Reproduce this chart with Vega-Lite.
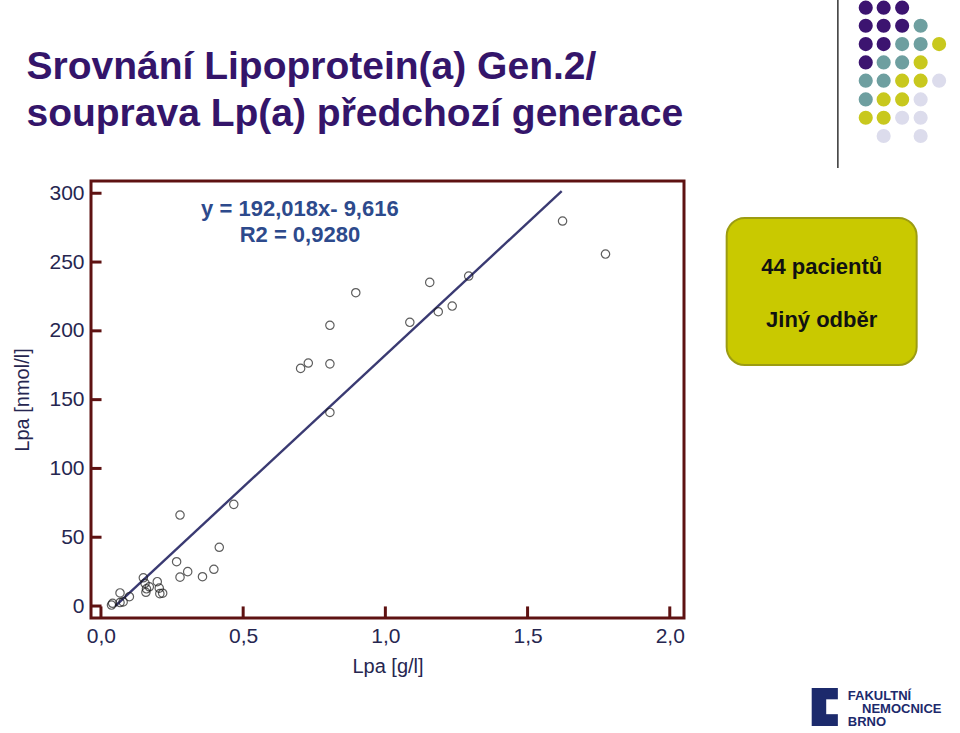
{
  "$schema": "https://vega.github.io/schema/vega-lite/v6.json",
  "width": 593,
  "height": 437,
  "autosize": {"type": "none"},
  "padding": {"left": 91, "top": 181, "right": 276, "bottom": 115},
  "background": "white",
  "config": {"view": {"stroke": "#5e1212", "strokeWidth": 3}, "font": "Liberation Sans"},
  "datasets": {
    "pts": [
      {"x": 0.037, "y": 0.7}, {"x": 0.041, "y": 2.0}, {"x": 0.067, "y": 9.5}, {"x": 0.067, "y": 2.5},
      {"x": 0.078, "y": 3.0}, {"x": 0.1, "y": 6.8}, {"x": 0.149, "y": 20.5}, {"x": 0.155, "y": 16.5},
      {"x": 0.16, "y": 12.5}, {"x": 0.158, "y": 10.0}, {"x": 0.17, "y": 14.0}, {"x": 0.198, "y": 17.7},
      {"x": 0.205, "y": 13.0}, {"x": 0.207, "y": 9.0}, {"x": 0.217, "y": 9.3},
      {"x": 0.266, "y": 32.2}, {"x": 0.278, "y": 66.1}, {"x": 0.278, "y": 21.0}, {"x": 0.305, "y": 25.0},
      {"x": 0.357, "y": 21.3}, {"x": 0.397, "y": 26.7}, {"x": 0.416, "y": 42.7}, {"x": 0.467, "y": 73.9},
      {"x": 0.702, "y": 172.7}, {"x": 0.729, "y": 176.6}, {"x": 0.805, "y": 176.0}, {"x": 0.805, "y": 204.0},
      {"x": 0.805, "y": 140.7}, {"x": 0.896, "y": 227.7},
      {"x": 1.086, "y": 206.2}, {"x": 1.156, "y": 235.2}, {"x": 1.186, "y": 213.9}, {"x": 1.235, "y": 218.0},
      {"x": 1.293, "y": 239.8}, {"x": 1.623, "y": 279.8}, {"x": 1.774, "y": 255.8}
    ],
    "fit": [{"x": 0.05, "y": 0.0}, {"x": 1.62, "y": 301.5}],
    "xticks": [
      {"x": 0, "y": -8.7, "y2": -0.3}, {"x": 0.5, "y": -8.7, "y2": -0.3}, {"x": 1.0, "y": -8.7, "y2": -0.3},
      {"x": 1.5, "y": -8.7, "y2": -0.3}, {"x": 2.0, "y": -8.7, "y2": -0.3}
    ],
    "yticks": [
      {"x": -0.035, "x2": 0.002, "y": 0}, {"x": -0.035, "x2": 0.002, "y": 50}, {"x": -0.035, "x2": 0.002, "y": 100},
      {"x": -0.035, "x2": 0.002, "y": 150}, {"x": -0.035, "x2": 0.002, "y": 200}, {"x": -0.035, "x2": 0.002, "y": 250},
      {"x": -0.035, "x2": 0.002, "y": 300}
    ],
    "eq": [
      {"x": 0.6995, "y": 288.5, "t": "y = 192,018x- 9,616"},
      {"x": 0.6995, "y": 269.6, "t": "R2 = 0,9280"}
    ],
    "title": [
      {"x": -0.262, "y": 383.0, "t": "Srovnání Lipoprotein(a) Gen.2/"},
      {"x": -0.262, "y": 348.8, "t": "souprava Lp(a) předchozí generace"}
    ],
    "dots": [
      {"x": 2.689, "y": 434.9, "c": "p"}, {"x": 2.752, "y": 434.9, "c": "p"}, {"x": 2.817, "y": 434.9, "c": "p"},
      {"x": 2.689, "y": 421.7, "c": "p"}, {"x": 2.752, "y": 421.7, "c": "p"}, {"x": 2.817, "y": 421.7, "c": "p"}, {"x": 2.882, "y": 421.7, "c": "t"},
      {"x": 2.689, "y": 408.4, "c": "p"}, {"x": 2.752, "y": 408.4, "c": "p"}, {"x": 2.817, "y": 408.4, "c": "t"}, {"x": 2.882, "y": 408.4, "c": "t"}, {"x": 2.947, "y": 408.4, "c": "y"},
      {"x": 2.689, "y": 395.1, "c": "p"}, {"x": 2.752, "y": 395.1, "c": "t"}, {"x": 2.817, "y": 395.1, "c": "t"}, {"x": 2.882, "y": 395.1, "c": "y"},
      {"x": 2.689, "y": 381.8, "c": "t"}, {"x": 2.752, "y": 381.8, "c": "t"}, {"x": 2.817, "y": 381.8, "c": "y"}, {"x": 2.882, "y": 381.8, "c": "y"}, {"x": 2.947, "y": 381.8, "c": "l"},
      {"x": 2.689, "y": 368.2, "c": "t"}, {"x": 2.752, "y": 368.2, "c": "y"}, {"x": 2.817, "y": 368.2, "c": "y"}, {"x": 2.882, "y": 368.2, "c": "l"},
      {"x": 2.689, "y": 354.9, "c": "y"}, {"x": 2.752, "y": 354.9, "c": "y"}, {"x": 2.817, "y": 354.9, "c": "l"}, {"x": 2.882, "y": 354.9, "c": "l"},
      {"x": 2.752, "y": 341.6, "c": "l"}, {"x": 2.882, "y": 341.6, "c": "l"}
    ],
    "vline": [{"x": 2.591, "y": 440.5}, {"x": 2.591, "y": 318.3}],
    "box": [{"x": 2.2, "x2": 2.868, "y": 282.0, "y2": 175.1}],
    "boxtext": [
      {"x": 2.534, "y": 246.4, "t": "44 pacientů"},
      {"x": 2.534, "y": 207.8, "t": "Jiný odběr"}
    ],
    "logo": [{"x": 2.499, "x2": 2.591, "y": -59.6, "y2": -87.2}],
    "notch": [{"x": 2.55, "x2": 2.6, "y": -67.8, "y2": -78.6}],
    "logotext": [
      {"x": 2.626, "y": -68.3, "t": "FAKULTNÍ"},
      {"x": 2.676, "y": -77.8, "t": "NEMOCNICE"},
      {"x": 2.626, "y": -87.2, "t": "BRNO"}
    ]
  },
  "encoding": {
    "x": {
      "field": "x", "type": "quantitative",
      "scale": {"domain": [-0.035, 2.05], "nice": false, "zero": false},
      "axis": {
        "title": "Lpa [g/l]", "values": [0, 0.5, 1, 1.5, 2],
        "labelExpr": "replace(format(datum.value, '.1f'), '.', ',')",
        "domain": false, "grid": false, "ticks": false,
        "labelPadding": 7, "labelFontSize": 21, "labelColor": "#262650", "labelFlush": false, "labelOverlap": false,
        "titleFontSize": 20, "titleFontWeight": "normal", "titleColor": "#262650", "titlePadding": 10
      }
    },
    "y": {
      "field": "y", "type": "quantitative",
      "scale": {"domain": [-8.7, 308.9], "nice": false, "zero": false},
      "axis": {
        "title": "Lpa [nmol/l]", "values": [0, 50, 100, 150, 200, 250, 300],
        "domain": false, "grid": false, "ticks": false,
        "labelPadding": 7, "labelFontSize": 21, "labelColor": "#262650", "labelFlush": false, "labelOverlap": false,
        "titleFontSize": 20, "titleFontWeight": "normal", "titleColor": "#262650", "titlePadding": 16
      }
    }
  },
  "layer": [
    {"data": {"name": "vline"}, "mark": {"type": "line", "color": "#333333", "strokeWidth": 1.5, "clip": false}},
    {"data": {"name": "dots"}, "mark": {"type": "circle", "size": 200, "opacity": 1, "clip": false},
     "encoding": {"color": {"field": "c", "type": "nominal", "legend": null,
       "scale": {"domain": ["p", "t", "y", "l"], "range": ["#3c1470", "#6e9fa0", "#c8c81e", "#dcdcec"]}}}},
    {"data": {"name": "title"}, "mark": {"type": "text", "align": "left", "baseline": "alphabetic", "fontSize": 39, "fontWeight": "bold", "color": "#34156a", "clip": false},
     "encoding": {"text": {"field": "t"}}},
    {"data": {"name": "box"}, "mark": {"type": "rect", "cornerRadius": 18, "fill": "#c9c900", "stroke": "#9c9c12", "strokeWidth": 2, "clip": false},
     "encoding": {"x2": {"field": "x2"}, "y2": {"field": "y2"}}},
    {"data": {"name": "boxtext"}, "mark": {"type": "text", "align": "center", "baseline": "middle", "fontSize": 22, "fontWeight": "bold", "color": "#111111", "clip": false},
     "encoding": {"text": {"field": "t"}}},
    {"data": {"name": "logo"}, "mark": {"type": "rect", "fill": "#1c2a6c", "clip": false},
     "encoding": {"x2": {"field": "x2"}, "y2": {"field": "y2"}}},
    {"data": {"name": "notch"}, "mark": {"type": "rect", "fill": "white", "clip": false},
     "encoding": {"x2": {"field": "x2"}, "y2": {"field": "y2"}}},
    {"data": {"name": "logotext"}, "mark": {"type": "text", "align": "left", "baseline": "alphabetic", "fontSize": 13, "fontWeight": "bold", "color": "#1c2a6c", "clip": false},
     "encoding": {"text": {"field": "t"}}},
    {"data": {"name": "xticks"}, "mark": {"type": "rule", "color": "#5e1212", "strokeWidth": 3, "opacity": 1},
     "encoding": {"y2": {"field": "y2"}}},
    {"data": {"name": "yticks"}, "mark": {"type": "rule", "color": "#5e1212", "strokeWidth": 3, "opacity": 1},
     "encoding": {"x2": {"field": "x2"}}},
    {"data": {"name": "fit"}, "mark": {"type": "line", "color": "#3a3a72", "strokeWidth": 2.4}},
    {"data": {"name": "pts"}, "mark": {"type": "point", "shape": "circle", "filled": false, "color": "#1a1a1a", "strokeWidth": 1.2, "size": 70}},
    {"data": {"name": "eq"}, "mark": {"type": "text", "align": "center", "baseline": "middle", "fontSize": 22, "fontWeight": "bold", "color": "#2d4a8c"},
     "encoding": {"text": {"field": "t"}}}
  ]
}
